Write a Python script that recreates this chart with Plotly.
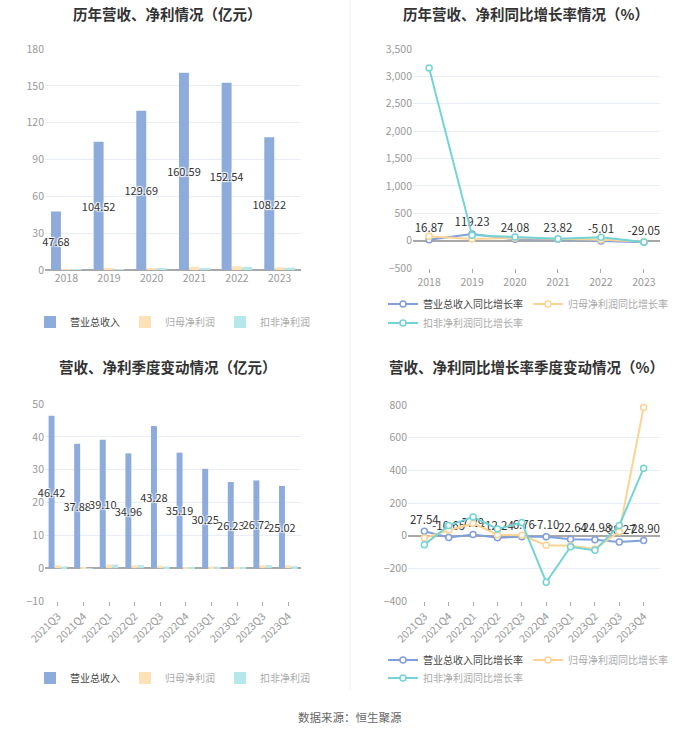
import plotly.graph_objects as go

# ---------------- data ----------------
years = ["2018", "2019", "2020", "2021", "2022", "2023"]
rev_year = [47.68, 104.52, 129.69, 160.59, 152.54, 108.22]
np_year = [0.8, 1.0, 1.4, 2.7, 3.0, 2.2]
npd_year = [0.3, 0.6, 1.1, 1.7, 2.5, 1.9]

rev_yoy = [16.87, 119.23, 24.08, 23.82, -5.01, -29.05]
np_yoy = [79, 30, 48, 30, 18, -18]
npd_yoy = [3154, 100, 67, 36, 61, -24]

quarters = ["2021Q3", "2021Q4", "2022Q1", "2022Q2", "2022Q3", "2022Q4",
            "2023Q1", "2023Q2", "2023Q3", "2023Q4"]
rev_q = [46.42, 37.88, 39.10, 34.96, 43.28, 35.19, 30.25, 26.23, 26.72, 25.02]
np_q = [0.9, 0.3, 1.1, 0.9, 0.8, 0.1, 0.5, 0.2, 0.9, 0.9]
npd_q = [0.5, 0.05, 1.1, 0.9, 0.5, 0.1, 0.4, 0.1, 0.9, 0.6]

rev_q_yoy = [27.54, -10.65, 7.29, -12.24, -6.76, -7.10, -22.64, -24.98, -38.27, -28.90]
np_q_yoy = [-14, 33, 75, 6, 2, -59, -62, -81, 24, 785]
npd_q_yoy = [-55, 62, 115, 41, 80, -285, -68, -90, 63, 413]

names_bar = ["营业总收入", "归母净利润", "扣非净利润"]
names_line = ["营业总收入同比增长率", "归母净利润同比增长率", "扣非净利润同比增长率"]

# ---------------- style ----------------
W, H = 700, 733
BLUE_BAR = "#8eacdb"
YEL_BAR = "#fde2b8"
CYAN_BAR = "#b6e8e9"
BLUE_LINE = "#809fdc"
YEL_LINE = "#fdd393"
CYAN_LINE = "#72d4d6"
FONT = "Noto Sans CJK SC"
GRID = "#e9edf5"
TICK = "#999999"


def px_x(a, b):
    return [a / W, b / W]


def px_y(top, bottom):
    return [1 - bottom / H, 1 - top / H]


def leg_name(n, i):
    if i == 0:
        return "<span style='color:#444'>" + n + "</span>"
    return "<span style='color:#aaaaaa'>" + n + "</span>"


fig = go.Figure()

label_font = dict(family=FONT, size=11, color="#333333",
                  shadow="1px 1px 1px white, -1px -1px 1px white, 1px -1px 1px white, -1px 1px 1px white")

# ---- top-left bars ----
for i, (vals, col) in enumerate([(rev_year, BLUE_BAR), (np_year, YEL_BAR), (npd_year, CYAN_BAR)]):
    fig.add_trace(go.Bar(
        x=years, y=vals, name=leg_name(names_bar[i], i), marker=dict(color=col, line=dict(width=0)),
        xaxis="x", yaxis="y", legend="legend",
        text=[f"{v:.2f}" for v in vals] if i == 0 else None,
        textposition="inside" if i == 0 else "none", insidetextanchor="middle",
        textangle=0, constraintext="none", insidetextfont=label_font,
        cliponaxis=False, hoverinfo="skip",
    ))

# ---- top-right lines ----
for i, (vals, col) in enumerate([(rev_yoy, BLUE_LINE), (np_yoy, YEL_LINE), (npd_yoy, CYAN_LINE)]):
    fig.add_trace(go.Scatter(
        x=years, y=vals, name=leg_name(names_line[i], i),
        mode="lines+markers+text" if i == 0 else "lines+markers",
        line=dict(color=col, width=2),
        marker=dict(symbol="circle", size=6, color="white", line=dict(color=col, width=1.5)),
        text=[f"{v:.2f}" for v in vals] if i == 0 else None,
        textposition="top center", textfont=dict(family=FONT, size=11.5, color="#333333"),
        xaxis="x2", yaxis="y2", legend="legend2" if i < 2 else "legend5",
        cliponaxis=False, hoverinfo="skip",
    ))

# ---- bottom-left bars ----
for i, (vals, col) in enumerate([(rev_q, BLUE_BAR), (np_q, YEL_BAR), (npd_q, CYAN_BAR)]):
    fig.add_trace(go.Bar(
        x=quarters, y=vals, name=leg_name(names_bar[i], i), marker=dict(color=col, line=dict(width=0)),
        xaxis="x3", yaxis="y3", legend="legend3",
        text=[f"{v:.2f}" for v in vals] if i == 0 else None,
        textposition="inside" if i == 0 else "none", insidetextanchor="middle",
        textangle=0, constraintext="none", insidetextfont=label_font,
        cliponaxis=False, hoverinfo="skip",
    ))

# ---- bottom-right lines ----
for i, (vals, col) in enumerate([(rev_q_yoy, BLUE_LINE), (np_q_yoy, YEL_LINE), (npd_q_yoy, CYAN_LINE)]):
    fig.add_trace(go.Scatter(
        x=quarters, y=vals, name=leg_name(names_line[i], i),
        mode="lines+markers+text" if i == 0 else "lines+markers",
        line=dict(color=col, width=2),
        marker=dict(symbol="circle", size=6, color="white", line=dict(color=col, width=1.5)),
        text=[f"{v:.2f}" for v in vals] if i == 0 else None,
        textposition="top center", textfont=dict(family=FONT, size=11.5, color="#333333"),
        xaxis="x4", yaxis="y4", legend="legend4" if i < 2 else "legend6",
        cliponaxis=False, hoverinfo="skip",
    ))

tickfont = dict(family=FONT, size=10.5, color=TICK)


def xax(domain, anchor, ticks, angle=0):
    return dict(domain=domain, anchor=anchor, type="category", tickfont=tickfont,
                showgrid=False, showline=False, zeroline=False, automargin=False,
                ticks="outside" if ticks else "", ticklen=4, tickcolor="#aaaaaa",
                tickangle=angle, fixedrange=True)


def yax(domain, anchor, rng, dtick, fmt=""):
    return dict(domain=domain, anchor=anchor, range=rng, dtick=dtick, tickformat=fmt,
                tickfont=tickfont, showgrid=True, gridcolor=GRID, gridwidth=1,
                zeroline=True, zerolinecolor="#a8a8a8", zerolinewidth=1.5, automargin=False,
                showline=False, ticks="", fixedrange=True)


def leg(x_text, y, ew):
    return dict(orientation="h", xanchor="left", yanchor="middle",
                x=(x_text - 42) / W, y=1 - y / H, entrywidth=ew, itemwidth=30,
                font=dict(family=FONT, size=10, color="#666666"),
                bgcolor="rgba(0,0,0,0)", itemclick=False, itemdoubleclick=False,
                tracegroupgap=0)


fig.update_layout(
    width=W, height=H, margin=dict(l=0, r=0, t=0, b=0, pad=0, autoexpand=False),
    paper_bgcolor="white", plot_bgcolor="white",
    barmode="group", bargap=0.27, bargroupgap=0.04,
    font=dict(family=FONT),
    xaxis=xax(px_x(45, 301), "y", False),
    yaxis=yax(px_y(49, 270), "x", [0, 180], 30),
    xaxis2=xax(px_x(413, 660), "y2", True),
    yaxis2=yax(px_y(49, 268), "x2", [-500, 3500], 500, ","),
    xaxis3=xax(px_x(45, 301), "y3", True, -45),
    yaxis3=yax(px_y(404, 601), "x3", [-10, 50], 10),
    xaxis4=xax(px_x(408, 660), "y4", True, -45),
    yaxis4=yax(px_y(405, 601), "x4", [-400, 800], 200),
    legend=leg(72, 322, 50),
    legend2=leg(425, 304, 100),
    legend5=leg(425, 323, 100),
    legend3=leg(72, 678, 50),
    legend4=leg(425, 660, 100),
    legend6=leg(425, 678, 100),
    showlegend=True,
)

titles = [
    ("<b>历年营收、净利情况（亿元）</b>", 167, 13),
    ("<b>历年营收、净利同比增长率情况（%）</b>", 526, 13),
    ("<b>营收、净利季度变动情况（亿元）</b>", 168, 366),
    ("<b>营收、净利同比增长率季度变动情况（%）</b>", 526, 366),
]
for t, x, y in titles:
    fig.add_annotation(text=t, x=x / W, y=1 - y / H, xref="paper", yref="paper",
                       xanchor="center", yanchor="middle", showarrow=False,
                       font=dict(family=FONT, size=14.5, color="#333333"))

fig.add_annotation(text="数据来源：恒生聚源", x=350 / W, y=1 - 717 / H, xref="paper", yref="paper",
                   xanchor="center", yanchor="middle", showarrow=False,
                   font=dict(family=FONT, size=11.5, color="#666666"))

fig.add_shape(type="line", xref="paper", yref="paper", x0=350 / W, x1=350 / W,
              y0=1 - 690 / H, y1=1, line=dict(color="#eeeeee", width=1))

fig.write_html("out.html", config={"displayModeBar": False},
               post_script="document.body.style.margin='0';")
